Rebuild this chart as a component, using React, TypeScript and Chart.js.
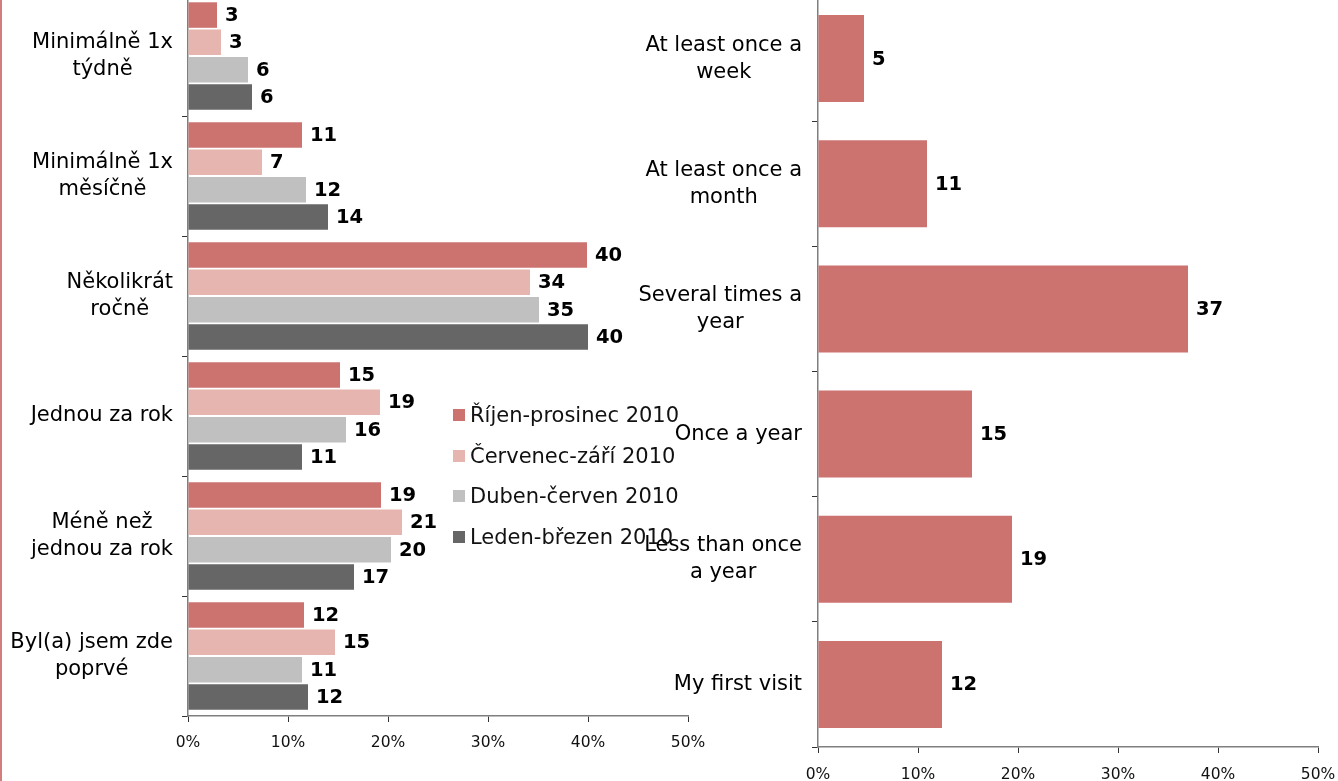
import React, { useEffect, useRef } from "react";
import { Chart, registerables } from "chart.js";

Chart.register(...registerables);

const FONT = "'DejaVu Sans', Verdana, sans-serif";

// ---------- data ----------
const categoriesCz: string[][] = [
  ["Minimálně 1x", "týdně"],
  ["Minimálně 1x", "měsíčně"],
  ["Několikrát", "ročně"],
  ["Jednou za rok"],
  ["Méně než", "jednou za rok"],
  ["Byl(a) jsem zde", "poprvé"],
];
const seriesNames: string[] = [
  "Říjen-prosinec 2010",
  "Červenec-září 2010",
  "Duben-červen 2010",
  "Leden-březen 2010",
];
const seriesColors: string[] = ["#CC7370", "#E6B5B0", "#C0C0C0", "#666666"];
const octDec2010: number[] = [2.9, 11.4, 39.9, 15.2, 19.3, 11.6];
const julSep2010: number[] = [3.3, 7.4, 34.2, 19.2, 21.4, 14.7];
const aprJun2010: number[] = [6.0, 11.8, 35.1, 15.8, 20.3, 11.4];
const janMar2010: number[] = [6.4, 14.0, 40.0, 11.4, 16.6, 12.0];

const categoriesEn: string[][] = [
  ["At least once a", "week"],
  ["At least once a", "month"],
  ["Several times a", "year"],
  ["Once a year"],
  ["Less than once", "a year"],
  ["My first visit"],
];
const englishValues: number[] = [4.6, 10.9, 37.0, 15.4, 19.4, 12.4];

const xTicks: number[] = [0, 10, 20, 30, 40, 50];

// ---------- plugins ----------
const catLabelPlugin = {
  id: "catLabels",
  afterDraw(chart: any, _args: any, opts: any) {
    const ys = chart.scales.y;
    const ctx = chart.ctx;
    const labels: string[][] = chart.data.labels;
    ctx.save();
    ctx.font = `${opts.size}px ${FONT}`;
    ctx.fillStyle = "#000";
    ctx.textAlign = "center";
    ctx.textBaseline = "middle";
    labels.forEach((lines, i) => {
      const cy = ys.getPixelForTick(i);
      const w = Math.max(...lines.map((l) => ctx.measureText(l).width));
      const right = ys.right - opts.gap;
      const cx = right - w / 2;
      const n = lines.length;
      lines.forEach((l, k) => {
        ctx.fillText(l, cx, cy + (k - (n - 1) / 2) * opts.lineHeight);
      });
    });
    ctx.restore();
  },
};

const valueLabelPlugin = {
  id: "valueLabels",
  afterDatasetsDraw(chart: any) {
    const ctx = chart.ctx;
    ctx.save();
    ctx.font = `bold 19.5px ${FONT}`;
    ctx.fillStyle = "#000";
    ctx.textAlign = "left";
    ctx.textBaseline = "middle";
    chart.data.datasets.forEach((ds: any, di: number) => {
      const meta = chart.getDatasetMeta(di);
      meta.data.forEach((el: any, j: number) => {
        ctx.fillText(String(Math.round(ds.data[j])), el.x + 8, el.y + 1);
      });
    });
    ctx.restore();
  },
};

type BarProps = {
  labels: string[][];
  datasets: { label: string; data: number[]; color: string }[];
  left: number;
  top: number;
  width: number;
  height: number;
  axisWidth: number;
  axisHeight: number;
  padRight: number;
  tickPadding: number;
  cp: number;
  bp: number;
  labelGap: number;
};

function HBar(p: BarProps) {
  const ref = useRef<HTMLCanvasElement | null>(null);
  useEffect(() => {
    if (!ref.current) return;
    const chart = new Chart(ref.current, {
      type: "bar",
      data: {
        labels: p.labels as any,
        datasets: p.datasets.map((d) => ({
          label: d.label,
          data: d.data,
          backgroundColor: d.color,
          borderWidth: 0,
          categoryPercentage: p.cp,
          barPercentage: p.bp,
        })),
      },
      options: {
        indexAxis: "y",
        animation: false,
        responsive: false,
        events: [],
        layout: { padding: { top: 0, left: 0, right: p.padRight, bottom: 0 } },
        plugins: {
          legend: { display: false },
          tooltip: { enabled: false },
          catLabels: { size: 21, lineHeight: 27, gap: p.labelGap },
        } as any,
        scales: {
          x: {
            type: "linear",
            min: 0,
            max: 50,
            afterBuildTicks: (s: any) => {
              s.ticks = xTicks.map((v) => ({ value: v }));
            },
            afterFit: (s: any) => {
              s.height = p.axisHeight;
            },
            grid: {
              drawOnChartArea: false,
              drawTicks: true,
              tickLength: 6,
              color: "#333",
            },
            border: { display: true, color: "#7f7f7f", width: 1.5 },
            ticks: {
              padding: p.tickPadding,
              color: "#111",
              font: { family: FONT, size: 15.5 },
              callback: (v: any) => `${v}%`,
            },
          },
          y: {
            type: "category",
            afterFit: (s: any) => {
              s.width = p.axisWidth;
            },
            grid: {
              offset: true,
              drawOnChartArea: false,
              drawTicks: true,
              tickLength: 6,
              color: "#333",
            },
            border: { display: true, color: "#7f7f7f", width: 1.5 },
            ticks: { display: false },
          },
        },
      },
      plugins: [catLabelPlugin, valueLabelPlugin],
    } as any);
    return () => chart.destroy();
  }, []);
  return (
    <canvas
      ref={ref}
      width={p.width}
      height={p.height}
      style={{
        position: "absolute",
        left: p.left,
        top: p.top,
        width: p.width,
        height: p.height,
      }}
    />
  );
}

export default function App() {
  const leftSets = [octDec2010, julSep2010, aprJun2010, janMar2010].map((d, i) => ({
    label: seriesNames[i],
    data: d,
    color: seriesColors[i],
  }));
  const rightSets = [{ label: "2010", data: englishValues, color: seriesColors[0] }];
  const legendTops = [415, 455.5, 496, 537];
  return (
    <div
      style={{
        position: "fixed",
        left: 0,
        top: 0,
        width: 1338,
        height: 781,
        overflow: "hidden",
        background: "#fff",
      }}
    >
      <HBar
        labels={categoriesCz}
        datasets={leftSets}
        left={0}
        top={-4}
        width={728}
        height={775}
        axisWidth={188}
        axisHeight={55}
        padRight={40}
        tickPadding={12}
        cp={0.91}
        bp={0.935}
        labelGap={15}
      />
      <HBar
        labels={categoriesEn}
        datasets={rightSets}
        left={600}
        top={-4}
        width={758}
        height={796}
        axisWidth={218}
        axisHeight={45}
        padRight={40}
        tickPadding={13}
        cp={1}
        bp={0.695}
        labelGap={16}
      />
      {seriesNames.map((n, i) => (
        <div
          key={n}
          style={{
            position: "absolute",
            left: 453,
            top: legendTops[i] - 12,
            height: 24,
            display: "flex",
            alignItems: "center",
            fontFamily: FONT,
            fontSize: 21,
            color: "#111",
            whiteSpace: "nowrap",
          }}
        >
          <span
            style={{
              display: "inline-block",
              width: 12,
              height: 12,
              background: seriesColors[i],
              marginRight: 5,
            }}
          />
          <span>{n}</span>
        </div>
      ))}
      <div
        style={{
          position: "absolute",
          left: 0,
          top: 0,
          width: 1.5,
          height: 781,
          background: "#D47E7B",
        }}
      />
    </div>
  );
}
